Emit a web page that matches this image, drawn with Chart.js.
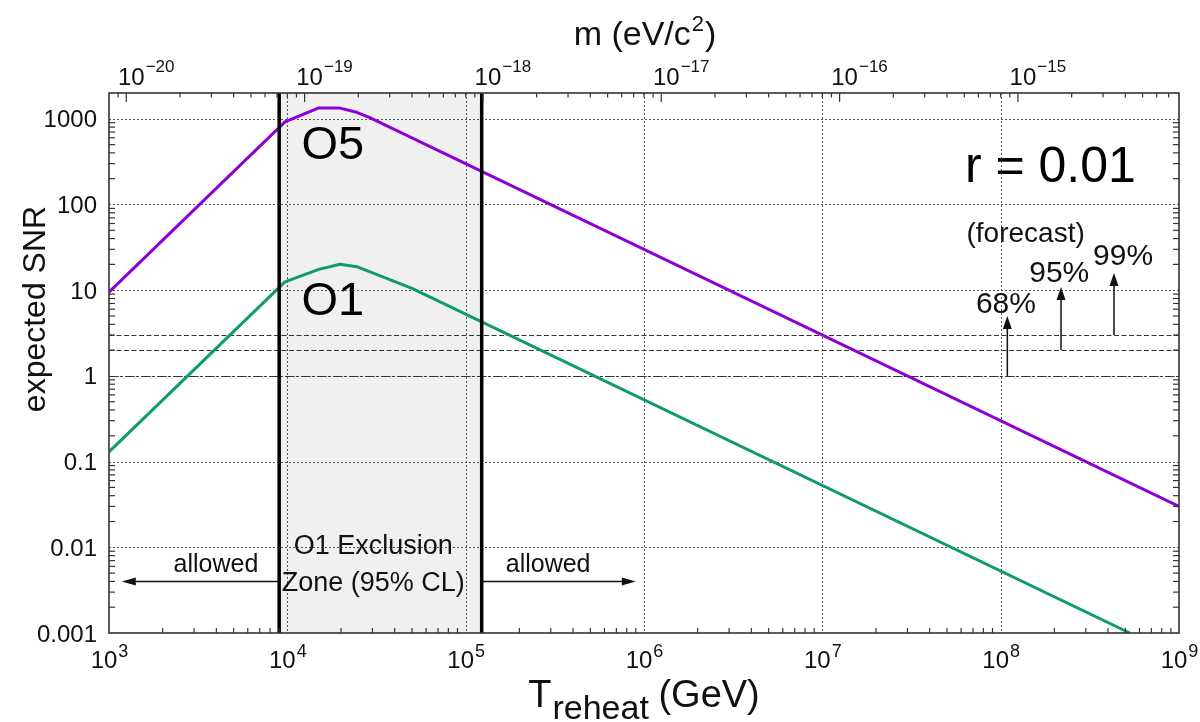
<!DOCTYPE html>
<html>
<head>
<meta charset="utf-8">
<script src="https://cdn.jsdelivr.net/npm/chart.js@4/dist/chart.umd.min.js"></script>
<style>
  html, body { margin: 0; padding: 0; background: #fff; }
  #wrap { width: 1200px; height: 722px; }
</style>
</head>
<body>
<div id="wrap"><canvas id="snr" width="1200" height="722"></canvas></div>
<script>
// Expected SNR vs reheating temperature (r = 0.01)
const o5T   = [1e3, 9.7e3, 1.5e4, 1.95e4, 2.45e4, 2.9e4, 1e9];
const o5SNR = [9.5, 920, 1340, 1340, 1190, 1030, 0.030];
const o1T   = [1e3, 9.7e3, 1.5e4, 1.97e4, 2.45e4, 5e4, 5.3e8];
const o1SNR = [0.13, 12.5, 17.5, 20.1, 18.8, 10.5, 0.001];

// O1 95% CL excluded range of T_reheat (GeV)
const exclusionZone = [9.0e3, 1.23e5];

// forecast detection thresholds
const thresholdSNR    = [1, 2, 3];
const thresholdLabels = ['68%', '95%', '99%'];

// axis ticks
const tTickExp      = [3, 4, 5, 6, 7, 8, 9];
const mTickExp      = [-20, -19, -18, -17, -16, -15];
const snrTicks      = [0.001, 0.01, 0.1, 1, 10, 100, 1000];
const snrTickLabels = ['0.001', '0.01', '0.1', '1', '10', '100', '1000'];

// axis ranges
const tRange   = [1e3, 1e9];
const snrRange = [1e-3, 2000];
const massPerT = 8e-24;   // eV/c^2 per GeV

const FONT = '"Liberation Sans", Arial, Helvetica, sans-serif';
const font = (s) => `${s}px ${FONT}`;

function arrow(ctx, x1, y1, x2, y2, len, half) {
  const ang = Math.atan2(y2 - y1, x2 - x1);
  const bx = x2 - len * Math.cos(ang), by = y2 - len * Math.sin(ang);
  ctx.beginPath(); ctx.moveTo(x1, y1); ctx.lineTo(bx, by); ctx.stroke();
  ctx.beginPath();
  ctx.moveTo(x2, y2);
  ctx.lineTo(bx + half * Math.sin(ang), by - half * Math.cos(ang));
  ctx.lineTo(bx - half * Math.sin(ang), by + half * Math.cos(ang));
  ctx.closePath(); ctx.fill();
}

// "10" with a raised exponent; anchor: 'center' of the whole label or of the base
function pow10(ctx, exp, x, base, size, supSize, raise, anchor) {
  ctx.font = font(size);
  const wb = ctx.measureText('10').width;
  ctx.font = font(supSize);
  const ws = ctx.measureText(exp).width;
  let left = anchor === 'base' ? x - wb / 2 : x - (wb + ws) / 2;
  ctx.textAlign = 'left'; ctx.textBaseline = 'alphabetic';
  ctx.font = font(size); ctx.fillText('10', left, base);
  ctx.font = font(supSize); ctx.fillText(exp, left + wb + 1, base - raise);
}

const deco = {
  id: 'deco',
  beforeDatasetsDraw(chart) {
    const { ctx, chartArea: a, scales: { x, y } } = chart;
    ctx.save();
    // exclusion band
    const xl = x.getPixelForValue(exclusionZone[0]);
    const xr = x.getPixelForValue(exclusionZone[1]);
    ctx.fillStyle = '#f0f0f0';
    ctx.fillRect(xl, a.top, xr - xl, a.bottom - a.top);

    // dotted decade grid
    ctx.strokeStyle = '#555'; ctx.lineWidth = 1; ctx.setLineDash([2, 2]);
    tTickExp.slice(1, -1).forEach(e => {
      const px = Math.round(x.getPixelForValue(Math.pow(10, e))) + 0.5;
      ctx.beginPath(); ctx.moveTo(px, a.top); ctx.lineTo(px, a.bottom); ctx.stroke();
    });
    snrTicks.slice(1).forEach(v => {
      const py = Math.round(y.getPixelForValue(v)) + 0.5;
      ctx.beginPath(); ctx.moveTo(a.left, py); ctx.lineTo(a.right, py); ctx.stroke();
    });

    // threshold lines
    ctx.strokeStyle = '#333'; ctx.lineWidth = 1.2;
    thresholdSNR.forEach((v, i) => {
      ctx.setLineDash(i === 0 ? [8, 3, 2, 3] : [5, 2.5]);
      const py = Math.round(y.getPixelForValue(v)) + 0.5;
      ctx.beginPath(); ctx.moveTo(a.left, py); ctx.lineTo(a.right, py); ctx.stroke();
    });
    ctx.restore();
  },
  afterDatasetsDraw(chart) {
    const { ctx, chartArea: a, scales: { x, y, xTop } } = chart;
    ctx.save();
    ctx.setLineDash([]);

    // exclusion boundaries
    ctx.strokeStyle = '#000'; ctx.lineWidth = 3.5;
    exclusionZone.forEach(t => {
      const px = x.getPixelForValue(t);
      ctx.beginPath(); ctx.moveTo(px, a.top); ctx.lineTo(px, a.bottom); ctx.stroke();
    });

    // frame
    ctx.strokeStyle = '#333'; ctx.lineWidth = 1.6;
    ctx.strokeRect(a.left, a.top, a.right - a.left, a.bottom - a.top);

    // minor ticks
    ctx.lineWidth = 1.2; ctx.strokeStyle = '#333';
    for (let e = 3; e < 9; e++) {
      for (let k = 2; k <= 9; k++) {
        const px = x.getPixelForValue(k * Math.pow(10, e));
        ctx.beginPath(); ctx.moveTo(px, a.bottom); ctx.lineTo(px, a.bottom - 5); ctx.stroke();
      }
    }
    for (let e = -3; e <= 3; e++) {
      for (let k = 2; k <= 9; k++) {
        const v = k * Math.pow(10, e);
        if (v >= snrRange[1]) continue;
        const py = y.getPixelForValue(v);
        ctx.beginPath(); ctx.moveTo(a.left, py); ctx.lineTo(a.left + 6, py); ctx.stroke();
        ctx.beginPath(); ctx.moveTo(a.right, py); ctx.lineTo(a.right - 6, py); ctx.stroke();
      }
    }
    for (let e = -21; e <= -15; e++) {
      for (let k = 1; k <= 9; k++) {
        const m = k * Math.pow(10, e);
        if (m <= xTop.min || m >= xTop.max) continue;
        const px = xTop.getPixelForValue(m);
        ctx.beginPath(); ctx.moveTo(px, a.top); ctx.lineTo(px, a.top + (k === 1 ? 9 : 4.5)); ctx.stroke();
      }
    }

    // tick labels
    ctx.fillStyle = '#111';
    tTickExp.forEach(e => pow10(ctx, String(e), x.getPixelForValue(Math.pow(10, e)), 668, 24, 18, 11, 'center'));
    mTickExp.forEach(e => pow10(ctx, '\u2212' + Math.abs(e), xTop.getPixelForValue(Math.pow(10, e)) + 5, 85, 24, 17, 13, 'base'));
    ctx.font = font(24); ctx.textAlign = 'right'; ctx.textBaseline = 'alphabetic';
    snrTicks.forEach((v, i) => ctx.fillText(snrTickLabels[i], a.left - 12, y.getPixelForValue(v) + 8.5));

    // axis titles
    const cx = (a.left + a.right) / 2;
    ctx.textAlign = 'left';
    ctx.font = font(38); const wT = ctx.measureText('T').width, wG = ctx.measureText(' (GeV)').width;
    ctx.font = font(34); const wR = ctx.measureText('reheat').width;
    let lx = cx - (wT + wR + wG) / 2;
    ctx.font = font(38); ctx.fillText('T', lx, 707);
    ctx.font = font(34); ctx.fillText('reheat', lx + wT + 1, 719);
    ctx.font = font(38); ctx.fillText(' (GeV)', lx + wT + wR, 707);

    ctx.font = font(34); const wm = ctx.measureText('m (eV/c').width, wp = ctx.measureText(')').width;
    ctx.font = font(22); const w2 = ctx.measureText('2').width;
    lx = cx - (wm + w2 + wp) / 2;
    ctx.font = font(34); ctx.fillText('m (eV/c', lx, 45);
    ctx.font = font(22); ctx.fillText('2', lx + wm + 1, 31);
    ctx.font = font(34); ctx.fillText(')', lx + wm + w2 + 2, 45);

    ctx.save();
    ctx.translate(45, 309); ctx.rotate(-Math.PI / 2);
    ctx.textAlign = 'center'; ctx.font = font(32);
    ctx.fillText('expected SNR', 0, 0);
    ctx.restore();

    // curve labels
    ctx.textAlign = 'left'; ctx.fillStyle = '#000';
    ctx.font = font(47);
    ctx.fillText('O5', x.getPixelForValue(1.2e4), y.getPixelForValue(339));
    ctx.fillText('O1', x.getPixelForValue(1.2e4), y.getPixelForValue(5.1));
    ctx.font = font(50);
    ctx.fillText('r = 0.01', x.getPixelForValue(6.3e7), y.getPixelForValue(182));

    // forecast thresholds: arrows and labels
    const arrowT   = [1.09e8, 2.18e8, 4.32e8];
    const arrowTip = [5.0, 10.9, 15.9];
    const labelT   = [1.07e8, 2.13e8, 4.86e8];
    const labelSNR = [5.4, 12.5, 19.6];
    ctx.strokeStyle = '#111'; ctx.fillStyle = '#111'; ctx.lineWidth = 1.5;
    thresholdSNR.forEach((v, i) => {
      const px = x.getPixelForValue(arrowT[i]);
      arrow(ctx, px, y.getPixelForValue(v), px, y.getPixelForValue(arrowTip[i]), 13, 4.5);
    });
    ctx.textAlign = 'center'; ctx.font = font(30);
    thresholdLabels.forEach((s, i) => ctx.fillText(s, x.getPixelForValue(labelT[i]), y.getPixelForValue(labelSNR[i])));
    ctx.font = font(28);
    ctx.fillText('(forecast)', x.getPixelForValue(1.38e8), y.getPixelForValue(37));

    // allowed regions
    const arrowSNR = 0.004;
    const ay = y.getPixelForValue(arrowSNR);
    arrow(ctx, x.getPixelForValue(exclusionZone[0]), ay, x.getPixelForValue(1.18e3), ay, 14, 4);
    arrow(ctx, x.getPixelForValue(exclusionZone[1]), ay, x.getPixelForValue(9.0e5), ay, 14, 4);
    ctx.font = font(25); ctx.textBaseline = 'middle';
    ctx.fillText('allowed', x.getPixelForValue(3.98e3), y.getPixelForValue(0.0062));
    ctx.fillText('allowed', x.getPixelForValue(2.9e5), y.getPixelForValue(0.0062));
    ctx.font = font(27);
    ctx.fillText('O1 Exclusion', x.getPixelForValue(3.03e4), y.getPixelForValue(0.0102));
    ctx.fillText('Zone (95% CL)', x.getPixelForValue(3.03e4), y.getPixelForValue(0.0038));
    ctx.restore();
  }
};

const toPoints = (xs, ys) => xs.map((t, i) => ({ x: t, y: ys[i] }));

new Chart(document.getElementById('snr'), {
  type: 'scatter',
  data: {
    datasets: [
      { label: 'O5', data: toPoints(o5T, o5SNR), showLine: true, borderColor: '#8f00d6',
        borderWidth: 3, pointRadius: 0, tension: 0, borderJoinStyle: 'round' },
      { label: 'O1', data: toPoints(o1T, o1SNR), showLine: true, borderColor: '#109a74',
        borderWidth: 3, pointRadius: 0, tension: 0, borderJoinStyle: 'round' }
    ]
  },
  options: {
    responsive: false,
    animation: false,
    layout: { padding: { left: 109, top: 93, right: 21, bottom: 89 } },
    plugins: { legend: { display: false }, tooltip: { enabled: false } },
    scales: {
      x:    { type: 'logarithmic', min: tRange[0], max: tRange[1], display: false },
      y:    { type: 'logarithmic', min: snrRange[0], max: snrRange[1], display: false },
      xTop: { type: 'logarithmic', position: 'top', axis: 'x',
              min: tRange[0] * massPerT, max: tRange[1] * massPerT, display: false }
    }
  },
  plugins: [deco]
});
</script>
</body>
</html>
